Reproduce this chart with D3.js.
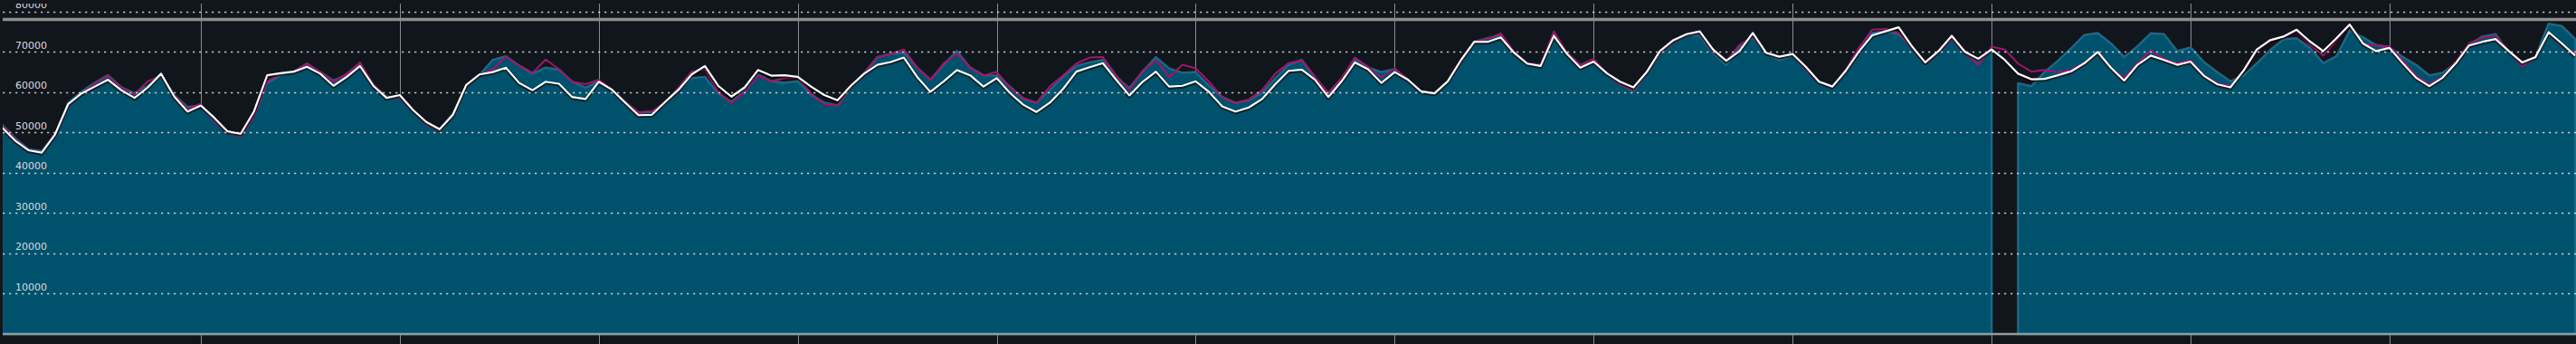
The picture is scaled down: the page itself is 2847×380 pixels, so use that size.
<!DOCTYPE html>
<html>
<head>
<meta charset="utf-8">
<script src="https://cdn.jsdelivr.net/npm/d3@7"></script>
<style>
  html, body { margin: 0; padding: 0; background: #11161c; overflow: hidden; }
  svg { display: block; }
</style>
</head>
<body>
<svg id="chart" width="2847" height="380"></svg>
<script>
// one sample every 4 minutes, vertical grid every hour
const stepMinutes = 4;

// teal area series (null = no data)
const areaValues = [
  52000, 48600, 45800, 45400, 49500, 57400, 60100, 62300, 64200, 61200,
  59700, 61600, 64200, 59300, 56300, 56700, 52900, 50300, 49500, 54400,
  62300, 64200, 65100, 66600, 65000, 62900, 64200, 66800, 61600, 58900,
  58600, 55600, 52200, 50700, 54800, 61600, 64200, 68000, 68900, 66600,
  64600, 66100, 65600, 62600, 61100, 62700, 60600, 57600, 54800, 55200,
  57100, 60500, 63500, 63800, 59700, 57600, 60500, 64400, 62700, 62300,
  62700, 59300, 57400, 56700, 61100, 64600, 68700, 69500, 69800, 66100,
  63100, 66800, 70200, 66100, 64200, 64100, 61400, 58300, 57400, 60500,
  63800, 66500, 67400, 68000, 63800, 61000, 65100, 68700, 65900, 64800,
  65000, 61600, 58800, 57300, 58000, 59800, 63500, 66800, 68000, 63500,
  59700, 63100, 68100, 66100, 65000, 65700, 63100, 60200, 59700, 62700,
  67600, 72500, 73400, 74100, 69800, 66800, 66500, 74400, 69500, 66500,
  67600, 64400, 62000, 60300, 64600, 69500, 72500, 74200, 74000, 69800,
  66800, 71100, 73600, 69800, 67900, 69100, 65700, 62600, 61500, 65300,
  70600, 74700, 75100, 74400, 71200, 67200, 70100, 73400, 70200, 67600,
  70600, null, 62200, 61500, 65000, 67800, 70900, 74200, 74700, 72100,
  68700, 71400, 74600, 74400, 70200, 71100, 67500, 65000, 62700, 64100,
  67200, 70400, 73100, 73400, 71000, 67200, 68900, 75300, 73600, 71700,
  71100, 68700, 66800, 64200, 64800, 67200, 71700, 73800, 74400, 69800,
  66800, 68700, 77000, 76400, 73200
];

// magenta line series
const magentaValues = [
  51900, 48400, 45400, 44900, 49200, 56700, 59800, 62100, 64200, 61100,
  59500, 62700, 64100, 59300, 55900, 57100, 52900, 50100, 49200, 54100,
  62700, 64600, 65100, 67200, 65000, 62700, 64600, 67400, 62000, 58800,
  58800, 55600, 52200, 50500, 54600, 61600, 64400, 65700, 68900, 66600,
  64800, 68100, 65700, 62600, 62000, 63100, 60600, 57600, 55000, 55300,
  57400, 61100, 65100, 65700, 60100, 57400, 60100, 64200, 62700, 63500,
  63600, 59700, 57100, 56700, 61400, 64800, 68700, 69500, 70600, 66100,
  63100, 67200, 69600, 66100, 64200, 65000, 61200, 58600, 57400, 61400,
  64200, 67100, 68600, 68700, 64200, 60600, 65300, 68000, 63800, 66800,
  65900, 62600, 58800, 57400, 58200, 60500, 64600, 67200, 68000, 63800,
  59800, 63500, 68600, 66300, 63800, 65900, 63100, 60200, 59700, 62700,
  67600, 72600, 73200, 74600, 70100, 67200, 66800, 75100, 69800, 66800,
  68300, 64600, 62000, 60500, 64800, 69800, 72600, 74400, 74700, 70200,
  67700, 71700, 74000, 69800, 68600, 69500, 65700, 62600, 61500, 65600,
  71000, 75500, 75700, 74700, 71100, 67100, 70100, 73400, 69800, 66800,
  71300, 70600, 67100, 65100, 65500, 65000, 65600, 67400, 69800, 65900,
  63600, 67200, 70400, 68300, 67200, 68000, 64400, 62300, 61600, 65100,
  70200, 72600, 73800, 75100, 71800, 69100, 72800, 76600, 72100, 71700,
  71300, 68000, 64200, 62000, 63900, 67600, 72100, 73600, 74100, 70200,
  66500, 68700, 74900, 71700, 69800
];

// white line series
const whiteValues = [
  51300, 48000, 45600, 45000, 49500, 57100, 59700, 61400, 63100, 60500,
  58600, 61200, 64600, 58900, 55200, 56700, 53700, 50300, 49700, 55200,
  64200, 64700, 65100, 66300, 64600, 61600, 63800, 66500, 61600, 58600,
  59300, 55600, 52600, 50800, 54400, 61800, 64400, 65000, 66100, 62300,
  60500, 62600, 62100, 58800, 58300, 62600, 60600, 57400, 54300, 54400,
  57600, 60600, 64400, 66500, 61600, 58900, 61200, 65500, 64100, 64200,
  63800, 61400, 59300, 58000, 61600, 64600, 66800, 67500, 68600, 63800,
  60100, 62700, 65500, 64200, 61400, 63500, 59800, 56900, 55100, 57400,
  60800, 65100, 66200, 67200, 63100, 59200, 62600, 65100, 61400, 61600,
  62700, 60100, 56500, 55200, 56200, 58300, 62000, 65300, 65600, 63100,
  58800, 62700, 67400, 65700, 62300, 65000, 63100, 60200, 59700, 62700,
  68000, 72500, 72500, 73600, 69800, 67100, 66500, 74000, 69500, 66100,
  67600, 64700, 62600, 61200, 65000, 70200, 72900, 74400, 75100, 70600,
  67800, 70200, 74700, 69800, 68800, 69500, 66300, 62600, 61400, 65300,
  70100, 74100, 75100, 76100, 71400, 67400, 70200, 74000, 70000, 68300,
  70600, 68000, 64600, 63200, 63300, 64200, 65200, 67200, 70000, 66100,
  62900, 66800, 69100, 68000, 66800, 67600, 64100, 62000, 61200, 65400,
  70600, 72900, 73800, 75500, 72600, 70200, 73400, 76800, 72100, 70200,
  71000, 67200, 63600, 61500, 63600, 67200, 71600, 72500, 73200, 70200,
  67400, 68700, 74900, 72100, 69100
];

const yTicks = [10000, 20000, 30000, 40000, 50000, 60000, 70000, 80000];

const svg = d3.select("#chart");
const W = +svg.attr("width"), H = +svg.attr("height");
const plotLeft = 3;

const minutes = areaValues.map((d, i) => i * stepMinutes);
const tMax = minutes[minutes.length - 1];

const x = d3.scaleLinear().domain([0, tMax]).range([2.1, 2846.1]);
const y = d3.scaleLinear().domain([0, 80000]).range([369, 12.8]);

svg.append("defs").append("clipPath").attr("id", "plotclip")
  .append("rect").attr("x", plotLeft).attr("y", 4).attr("width", W - plotLeft).attr("height", H - 4);

const g = svg.append("g").attr("clip-path", "url(#plotclip)");

// hourly vertical lines (behind the area)
g.append("g").selectAll("line")
  .data(d3.range(60, tMax, 60))
  .join("line")
  .attr("x1", d => Math.round(x(d)) + 0.5).attr("x2", d => Math.round(x(d)) + 0.5)
  .attr("y1", 4).attr("y2", H)
  .attr("stroke", "#8a8d90").attr("stroke-width", 1);

// area
const area = d3.area()
  .defined(d => d.v !== null)
  .x(d => x(d.t))
  .y0(y(0))
  .y1(d => y(d.v));

const areaData = areaValues.map((v, i) => ({ t: minutes[i], v: v }));

g.append("path")
  .datum(areaData)
  .attr("fill", "#00516b")
  .attr("stroke", "#17698a")
  .attr("stroke-width", 2.5)
  .attr("stroke-linejoin", "round")
  .attr("d", area);

const line = d3.line()
  .x(d => x(d.t))
  .y(d => y(d.v));

const magentaData = magentaValues.map((v, i) => ({ t: minutes[i], v: v }));
const whiteData = whiteValues.map((v, i) => ({ t: minutes[i], v: v }));

g.append("path")
  .datum(magentaData)
  .attr("fill", "none")
  .attr("stroke", "#a0156c")
  .attr("stroke-width", 2)
  .attr("stroke-linejoin", "round")
  .attr("d", line);

// dark halo under the white line
g.append("path")
  .datum(whiteData)
  .attr("fill", "none")
  .attr("stroke", "rgba(0,0,0,0.55)")
  .attr("stroke-width", 4.5)
  .attr("stroke-linejoin", "round")
  .attr("transform", "translate(0,0.8)")
  .attr("d", line);

g.append("path")
  .datum(whiteData)
  .attr("fill", "none")
  .attr("stroke", "#ffffff")
  .attr("stroke-width", 2.2)
  .attr("stroke-linejoin", "round")
  .attr("d", line);

// dotted horizontal grid on top
g.append("g").selectAll("line")
  .data(yTicks)
  .join("line")
  .attr("x1", plotLeft).attr("x2", W)
  .attr("y1", d => Math.round(y(d)) + 0.5).attr("y2", d => Math.round(y(d)) + 0.5)
  .attr("stroke", "rgba(235,240,242,0.8)")
  .attr("stroke-width", 1.5)
  .attr("stroke-dasharray", "2.3,4.7");

// tick labels
g.append("g").selectAll("text")
  .data(yTicks)
  .join("text")
  .attr("x", 17)
  .attr("y", d => y(d) - 3.5)
  .attr("font-family", "DejaVu Sans, Verdana, sans-serif")
  .attr("font-size", 11)
  .attr("fill", "#dadcdd")
  .text(d => d);

// top band and bottom axis
svg.append("line")
  .attr("x1", plotLeft).attr("x2", W)
  .attr("y1", 21.5).attr("y2", 21.5)
  .attr("stroke", "#8e8e8e").attr("stroke-width", 3.5);

svg.append("line")
  .attr("x1", plotLeft).attr("x2", W)
  .attr("y1", y(0)).attr("y2", y(0))
  .attr("stroke", "#979a9c").attr("stroke-width", 2.5);
</script>
</body>
</html>
